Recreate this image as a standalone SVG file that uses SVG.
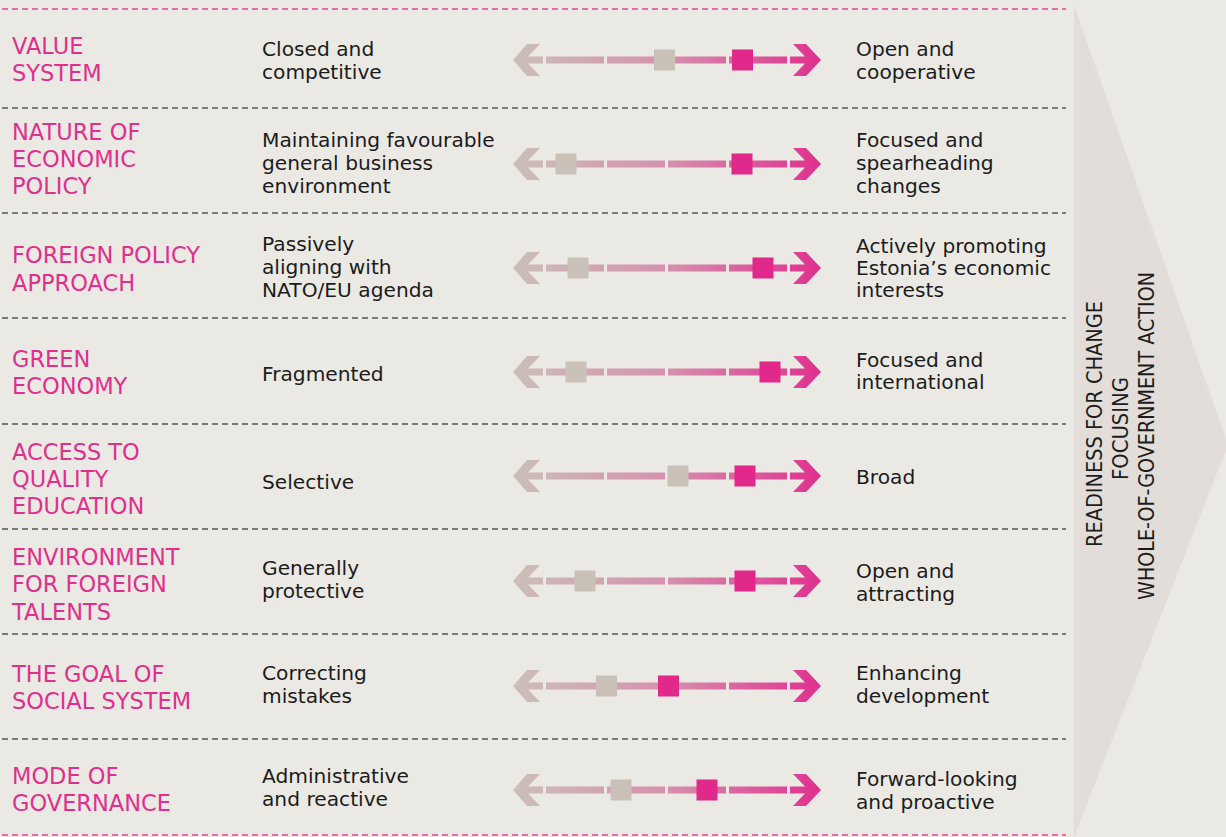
<svg xmlns="http://www.w3.org/2000/svg" width="1226" height="837" viewBox="0 0 1226 837">
<style>
.lbl{font-family:"DejaVu Sans","Liberation Sans",sans-serif;font-size:22.5px;fill:#e0308c}
.txt{font-family:"DejaVu Sans","Liberation Sans",sans-serif;font-size:20.2px;fill:#1c1c1c}
.vt{font-family:"DejaVu Sans","Liberation Sans",sans-serif;font-size:22px;fill:#1c1c1c}
.sep{stroke:#555;stroke-width:1.3;stroke-dasharray:6 4;fill:none}
.sepp{stroke:#e0449a;stroke-width:1.6;stroke-dasharray:6 4;fill:none}
.sqg{fill:#c9c1b8}
.sqp{fill:#e0298b}
</style>
<defs>
<linearGradient id="grad" gradientUnits="userSpaceOnUse" x1="513" y1="0" x2="821" y2="0">
<stop offset="0" stop-color="#cbbfb8"/>
<stop offset="0.5" stop-color="#d690ae"/>
<stop offset="1" stop-color="#e0308f"/>
</linearGradient>
<g id="arr" fill="url(#grad)">
<polygon points="513,0 527,-16 540,-16 528,-3.5 543,-3.5 543,3.5 528,3.5 540,16 527,16"/>
<rect x="546" y="-3.5" width="58" height="7"/>
<rect x="607" y="-3.5" width="58" height="7"/>
<rect x="668" y="-3.5" width="58" height="7"/>
<rect x="729" y="-3.5" width="58" height="7"/>
<polygon points="790,-3.5 805,-3.5 793,-16 806,-16 821,0 806,16 793,16 805,3.5 790,3.5"/>
</g>
</defs>
<rect width="1226" height="837" fill="#ebe9e4"/>
<polygon id="chevron" points="1074,5 1228,445 1074,837" fill="#e2ddd8"/>
<g id="lines">
<line class="sepp" x1="2" y1="9" x2="1066" y2="9"/>
<line class="sep" x1="2" y1="108" x2="1066" y2="108"/>
<line class="sep" x1="2" y1="213" x2="1066" y2="213"/>
<line class="sep" x1="2" y1="318" x2="1066" y2="318"/>
<line class="sep" x1="2" y1="424" x2="1066" y2="424"/>
<line class="sep" x1="2" y1="529" x2="1066" y2="529"/>
<line class="sep" x1="2" y1="634" x2="1066" y2="634"/>
<line class="sep" x1="2" y1="739" x2="1066" y2="739"/>
<line class="sepp" x1="2" y1="835" x2="1066" y2="835"/>
</g>
<g id="connectors">
<use href="#arr" y="60"/>
<use href="#arr" y="164"/>
<use href="#arr" y="268"/>
<use href="#arr" y="372"/>
<use href="#arr" y="476"/>
<use href="#arr" y="581"/>
<use href="#arr" y="686"/>
<use href="#arr" y="790"/>
</g>
<g id="row1">
<text class="lbl" x="12" y="54">VALUE</text>
<text class="lbl" x="12" y="81">SYSTEM</text>
<text class="txt" x="262" y="56">Closed and</text>
<text class="txt" x="262" y="79">competitive</text>
<rect class="sqg" x="654" y="49.5" width="21" height="21"/>
<rect class="sqp" x="732" y="49.5" width="21" height="21"/>
<text class="txt" x="856" y="56">Open and</text>
<text class="txt" x="856" y="79">cooperative</text>
</g>
<g id="row2">
<text class="lbl" x="12" y="140">NATURE OF</text>
<text class="lbl" x="12" y="167">ECONOMIC</text>
<text class="lbl" x="12" y="194">POLICY</text>
<text class="txt" x="262" y="147">Maintaining favourable</text>
<text class="txt" x="262" y="170">general business</text>
<text class="txt" x="262" y="193">environment</text>
<rect class="sqg" x="555.5" y="153.5" width="21" height="21"/>
<rect class="sqp" x="731.5" y="153.5" width="21" height="21"/>
<text class="txt" x="856" y="147">Focused and</text>
<text class="txt" x="856" y="170">spearheading</text>
<text class="txt" x="856" y="193">changes</text>
</g>
<g id="row3">
<text class="lbl" x="12" y="263">FOREIGN POLICY</text>
<text class="lbl" x="12" y="291">APPROACH</text>
<text class="txt" x="262" y="251">Passively</text>
<text class="txt" x="262" y="274">aligning with</text>
<text class="txt" x="262" y="297">NATO/EU agenda</text>
<rect class="sqg" x="567.5" y="257.5" width="21" height="21"/>
<rect class="sqp" x="752.5" y="257.5" width="21" height="21"/>
<text class="txt" x="856" y="253">Actively promoting</text>
<text class="txt" x="856" y="275">Estonia’s economic</text>
<text class="txt" x="856" y="297">interests</text>
</g>
<g id="row4">
<text class="lbl" x="12" y="367">GREEN</text>
<text class="lbl" x="12" y="394">ECONOMY</text>
<text class="txt" x="262" y="381">Fragmented</text>
<rect class="sqg" x="565.5" y="361.5" width="21" height="21"/>
<rect class="sqp" x="759.5" y="361.5" width="21" height="21"/>
<text class="txt" x="856" y="367">Focused and</text>
<text class="txt" x="856" y="389">international</text>
</g>
<g id="row5">
<text class="lbl" x="12" y="460">ACCESS TO</text>
<text class="lbl" x="12" y="487">QUALITY</text>
<text class="lbl" x="12" y="514">EDUCATION</text>
<text class="txt" x="262" y="489">Selective</text>
<rect class="sqg" x="667.5" y="465.5" width="21" height="21"/>
<rect class="sqp" x="734.5" y="465.5" width="21" height="21"/>
<text class="txt" x="856" y="484">Broad</text>
</g>
<g id="row6">
<text class="lbl" x="12" y="565">ENVIRONMENT</text>
<text class="lbl" x="12" y="592">FOR FOREIGN</text>
<text class="lbl" x="12" y="620">TALENTS</text>
<text class="txt" x="262" y="575">Generally</text>
<text class="txt" x="262" y="598">protective</text>
<rect class="sqg" x="574.5" y="570.5" width="21" height="21"/>
<rect class="sqp" x="734.5" y="570.5" width="21" height="21"/>
<text class="txt" x="856" y="578">Open and</text>
<text class="txt" x="856" y="601">attracting</text>
</g>
<g id="row7">
<text class="lbl" x="12" y="682">THE GOAL OF</text>
<text class="lbl" x="12" y="709">SOCIAL SYSTEM</text>
<text class="txt" x="262" y="680">Correcting</text>
<text class="txt" x="262" y="703">mistakes</text>
<rect class="sqg" x="596" y="675.5" width="21" height="21"/>
<rect class="sqp" x="658" y="675.5" width="21" height="21"/>
<text class="txt" x="856" y="680">Enhancing</text>
<text class="txt" x="856" y="703">development</text>
</g>
<g id="row8">
<text class="lbl" x="12" y="784">MODE OF</text>
<text class="lbl" x="12" y="811">GOVERNANCE</text>
<text class="txt" x="262" y="783">Administrative</text>
<text class="txt" x="262" y="806">and reactive</text>
<rect class="sqg" x="610.5" y="779.5" width="21" height="21"/>
<rect class="sqp" x="696.5" y="779.5" width="21" height="21"/>
<text class="txt" x="856" y="786">Forward-looking</text>
<text class="txt" x="856" y="809">and proactive</text>
</g>
<g id="side">
<text class="vt" transform="translate(1102,547) rotate(-90)" textLength="246" lengthAdjust="spacingAndGlyphs">READINESS FOR CHANGE</text>
<text class="vt" transform="translate(1128,480) rotate(-90)" textLength="103" lengthAdjust="spacingAndGlyphs">FOCUSING</text>
<text class="vt" transform="translate(1154,600) rotate(-90)" textLength="328" lengthAdjust="spacingAndGlyphs">WHOLE-OF-GOVERNMENT ACTION</text>
</g>
</svg>
